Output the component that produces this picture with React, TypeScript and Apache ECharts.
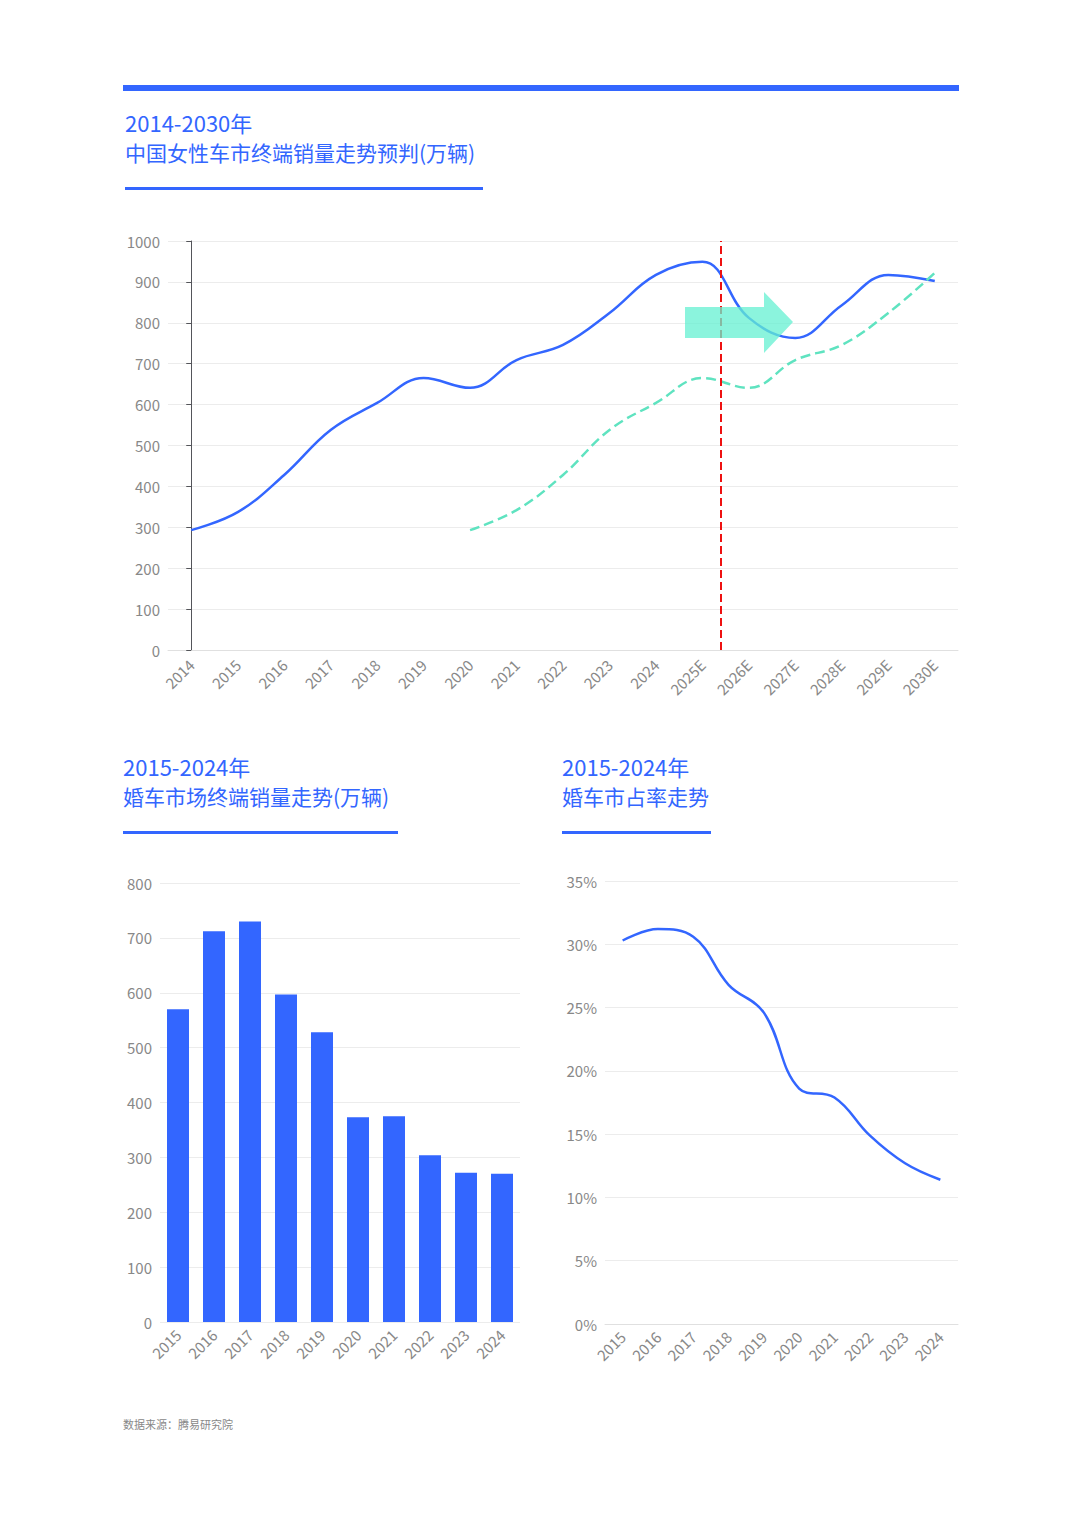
import { useEffect, useRef } from "react";
import * as echarts from "echarts";

const topYears = ["2014", "2015", "2016", "2017", "2018", "2019", "2020", "2021", "2022", "2023", "2024", "2025E", "2026E", "2027E", "2028E", "2029E", "2030E"];
const femaleSales = [293, 337, 428, 538, 604, 665, 641, 709, 746, 824, 917, 949, 812, 763, 843, 917, 902];
const femaleTrend = [null, null, null, null, null, null, 293, 342, 428, 538, 604, 665, 641, 709, 746, 824, 922];
const weddingYears = ["2015", "2016", "2017", "2018", "2019", "2020", "2021", "2022", "2023", "2024"];
const weddingSales = [570, 712, 730, 597, 528, 373, 375, 304, 272, 270];
const weddingShare = [30.3, 31.2, 30.6, 26.8, 24.6, 18.6, 17.9, 14.9, 12.7, 11.4];
const forecastSplit = 11.4;

const BLUE = "#3366ff";
const FONT = "'Noto Sans CJK SC', 'Noto Sans', sans-serif";

const axisLabel = { color: "#888", fontSize: 15, fontFamily: FONT };
const splitLine = { lineStyle: { color: "#ececec" } };

function title(x: number, y: number, l1: string, l2: string, w: number) {
  return [
    { type: "text", left: x, top: y, style: { text: l1, fill: BLUE, fontSize: 22, fontFamily: FONT } },
    { type: "text", left: x, top: y + 30, style: { text: l2, fill: BLUE, fontSize: 21, fontFamily: FONT } },
    { type: "rect", left: x, top: y + 76, shape: { width: w, height: 3 }, style: { fill: BLUE } },
  ];
}

export default function App() {
  const ref = useRef<HTMLDivElement>(null);

  useEffect(() => {
    document.body.style.margin = "0";
    if (!ref.current) return;
    const chart = echarts.init(ref.current, undefined, { renderer: "svg" });
    chart.setOption({
      animation: false,
      backgroundColor: "#fff",
      grid: [
        { left: 168, right: 122, top: 241, height: 409 },
        { left: 160, width: 360, top: 883, height: 439 },
        { left: 605, width: 353, top: 881, height: 443 },
      ],
      xAxis: [
        {
          type: "category", data: topYears, gridIndex: 0,
          axisLine: { lineStyle: { color: "#e0e0e0" } }, axisTick: { show: false },
          axisLabel: { ...axisLabel, rotate: 45, margin: 12 },
        },
        {
          type: "category", data: weddingYears, gridIndex: 1,
          axisLine: { show: false }, axisTick: { show: false },
          axisLabel: { ...axisLabel, rotate: 45, margin: 10 },
        },
        {
          type: "category", data: weddingYears, gridIndex: 2,
          axisLine: { lineStyle: { color: "#e0e0e0" } }, axisTick: { show: false },
          axisLabel: { ...axisLabel, rotate: 45, margin: 10 },
        },
        { type: "value", gridIndex: 0, min: -0.5, max: 16.5, show: false },
      ],
      yAxis: [
        {
          type: "value", gridIndex: 0, min: 0, max: 1000, interval: 100,
          axisLabel: { ...axisLabel, formatter: (v: number) => String(v) }, splitLine,
        },
        { type: "value", gridIndex: 1, min: 0, max: 800, interval: 100, axisLabel, splitLine },
        {
          type: "value", gridIndex: 2, min: 0, max: 35, interval: 5,
          axisLabel: { ...axisLabel, formatter: "{value}%" }, splitLine,
        },
      ],
      series: [
        {
          type: "line", xAxisIndex: 0, yAxisIndex: 0, data: femaleSales, smooth: 0.4,
          showSymbol: false, lineStyle: { color: BLUE, width: 2.5 },
        },
        {
          type: "line", xAxisIndex: 0, yAxisIndex: 0, data: femaleTrend, smooth: 0.4,
          showSymbol: false, lineStyle: { color: "#5fe3c0", width: 2.5, type: "dashed" },
        },
        {
          type: "line", xAxisIndex: 3, yAxisIndex: 0, data: [], showSymbol: false,
          markLine: {
            silent: true, symbol: "none", label: { show: false },
            lineStyle: { color: "#ee1111", type: "dashed", width: 2 },
            data: [{ xAxis: forecastSplit }],
          },
        },
        {
          type: "bar", xAxisIndex: 1, yAxisIndex: 1, data: weddingSales, barWidth: 22,
          itemStyle: { color: BLUE },
        },
        {
          type: "line", xAxisIndex: 2, yAxisIndex: 2, data: weddingShare, smooth: 0.4,
          showSymbol: false, lineStyle: { color: BLUE, width: 2.5 },
        },
      ],
      graphic: [
        { type: "rect", left: 123, top: 85, shape: { width: 836, height: 6 }, style: { fill: BLUE } },
        ...title(125, 111, "2014-2030年", "中国女性车市终端销量走势预判(万辆)", 358),
        ...title(123, 755, "2015-2024年", "婚车市场终端销量走势(万辆)", 275),
        ...title(562, 755, "2015-2024年", "婚车市占率走势", 149),
        {
          type: "polygon", z: 10,
          shape: { points: [[685, 307], [764, 307], [764, 292], [793, 322], [764, 353], [764, 338], [685, 338]] },
          style: { fill: "rgba(100,240,210,0.75)" },
        },
        { type: "text", left: 123, top: 1418, style: { text: "数据来源：腾易研究院", fill: "#888", fontSize: 11, fontFamily: FONT } },
      ],
    });
    return () => chart.dispose();
  }, []);

  return <div ref={ref} style={{ width: 1080, height: 1517 }} />;
}
